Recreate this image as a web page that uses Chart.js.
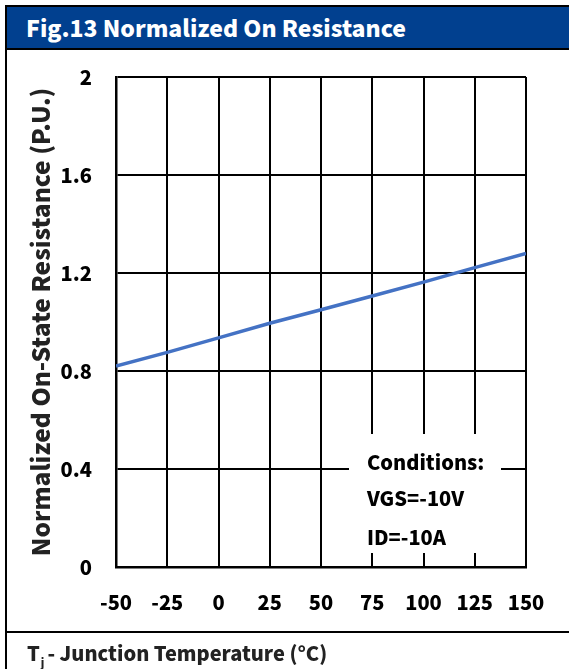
<!DOCTYPE html>
<html>
<head>
<meta charset="utf-8">
<script src="https://cdn.jsdelivr.net/npm/chart.js@4.4.0/dist/chart.umd.min.js"></script>
<style>
  html, body { margin: 0; padding: 0; background: #fff; }
  body { width: 569px; height: 669px; position: relative; overflow: hidden; font-family: "Noto Sans CJK SC", "Noto Sans", sans-serif; }
  #frame { position: absolute; left: 5px; top: 5px; width: 700px; height: 700px; border-left: 2px solid #000; border-top: 2px solid #000; }
  #header { position: absolute; left: 7px; top: 7px; width: 600px; height: 41px; background: #01408F; border-bottom: 2px solid #000; }
  #title { position: absolute; left: 26px; top: 7px; height: 41px; line-height: 41px; color: #fff; font-size: 23px; font-weight: 900; white-space: nowrap; }
  #wrap { position: absolute; left: 7px; top: 41px; width: 562px; height: 590px; }
  #divider { position: absolute; left: 5px; top: 631px; width: 600px; height: 2px; background: #000; }
  #xtitle { position: absolute; left: 27px; top: 640px; font-size: 20px; font-weight: 900; color: #222; white-space: nowrap; line-height: 26px; }
  #xtitle sub { font-size: 11px; vertical-align: -6px; margin-left: 1px; margin-right: 3px; }
  #cond { position: absolute; left: 349px; top: 434px; width: 152px; height: 119px; background: #fff; }
  .ct { position: absolute; left: 18px; font-size: 20px; font-weight: 900; color: #000; white-space: nowrap; line-height: 24px; }
</style>
</head>
<body>
<div id="wrap"><canvas id="c"></canvas></div>
<div id="frame"></div>
<div id="header"></div>
<div id="title">Fig.13 Normalized On Resistance</div>
<div id="cond">
  <div class="ct" style="top:16px">Conditions:</div>
  <div class="ct" style="top:52px">VGS=-10V</div>
  <div class="ct" style="top:91px">ID=-10A</div>
</div>
<div id="divider"></div>
<div id="xtitle">T<sub>j</sub>- Junction Temperature (°C)</div>
<script>
const temperatures = [-50, -25, 0, 25, 50, 75, 100, 125, 150];
const normalizedRds = [0.82, 0.876, 0.935, 0.995, 1.05, 1.106, 1.163, 1.222, 1.28];
const xTickValues = [-50, -25, 0, 25, 50, 75, 100, 125, 150];
const yTickValues = [0, 0.4, 0.8, 1.2, 1.6, 2];
const yTickLabels = ['0', '0.4', '0.8', '1.2', '1.6', '2'];
const yAxisTitle = 'Normalized On-State Resistance (P.U.)';

const FONT = '"Noto Sans CJK SC", "Noto Sans", sans-serif';

new Chart(document.getElementById('c'), {
  type: 'line',
  data: {
    datasets: [{
      data: temperatures.map((t, i) => ({ x: t, y: normalizedRds[i] })),
      borderColor: '#4472C4',
      borderWidth: 3.5,
      pointRadius: 0,
      fill: false,
      tension: 0
    }]
  },
  options: {
    responsive: true,
    maintainAspectRatio: false,
    animation: false,
    layout: { padding: { top: 0, right: 43, left: 0, bottom: 0 } },
    plugins: { legend: { display: false }, tooltip: { enabled: false } },
    scales: {
      x: {
        type: 'linear',
        min: -50, max: 150,
        afterBuildTicks: s => { s.ticks = xTickValues.map(v => ({ value: v })); },
        afterFit: s => { s.height = 64; },
        grid: { color: '#000', lineWidth: 2, drawTicks: false },
        border: { display: true, color: '#000', width: 2.5 },
        ticks: { color: '#000', padding: 23, maxRotation: 0, autoSkip: false,
          font: { family: FONT, size: 20, weight: '900' },
          callback: v => String(v) }
      },
      y: {
        type: 'linear',
        min: 0, max: 2,
        afterBuildTicks: s => { s.ticks = yTickValues.map(v => ({ value: v })); },
        afterFit: s => { s.width = 109; },
        grid: { color: '#000', lineWidth: 2, drawTicks: false },
        border: { display: true, color: '#000', width: 2.5 },
        ticks: { color: '#000', padding: 24, autoSkip: false,
          font: { family: FONT, size: 20, weight: '900' },
          callback: v => yTickLabels[yTickValues.indexOf(v)] ?? '' },
        title: { display: true, text: yAxisTitle, color: '#222',
          font: { family: FONT, size: 24.5, weight: '900' },
          padding: { top: 19, bottom: 0 } }
      }
    }
  }
});
</script>
</body>
</html>
